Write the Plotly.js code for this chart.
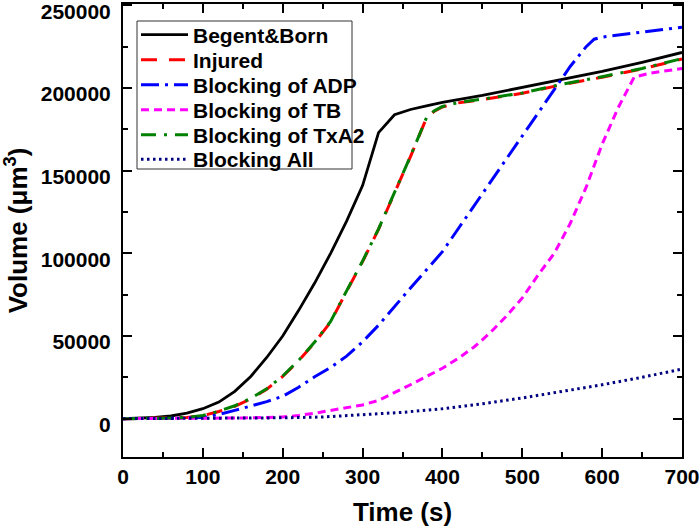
<!DOCTYPE html>
<html>
<head>
<meta charset="utf-8">
<script src="https://cdn.plot.ly/plotly-3.0.1.min.js"></script>
<style>html,body{margin:0;padding:0;background:#fff;}#chart{width:700px;height:531px;}</style>
</head>
<body>
<div id="chart"></div>
<script>
// Time (s) and volume (µm^3) series
const tBB = [0,20,40,60,80,100,120,140,160,180,200,220,240,260,280,300,320,340,360,380,400,450,500,550,600,650,700];
const vBB = [0,200,700,1600,3300,6000,10000,16500,25500,37000,50000,65500,82000,100000,119500,141000,173000,183800,187000,189200,191300,195500,200300,205500,210000,215500,221500];

const tInj = [0,20,40,60,80,100,120,140,160,180,200,220,240,260,280,300,320,340,360,380,390,400,420,450,500,550,600,650,700];
const vInj = [0,50,150,350,700,1800,4300,7500,12000,17800,25500,35000,46000,58500,77000,95000,114500,136000,158500,181800,186000,188500,191000,193000,196800,202000,206500,211500,217500];

const tADP = [0,50,100,120,140,160,180,200,220,240,260,280,300,320,340,360,380,400,420,440,460,480,500,520,540,560,580,590,600,650,700];
const vADP = [0,100,700,2500,5000,7500,10300,13500,19000,25300,31000,37800,46500,56500,68000,79000,90000,101000,115000,129000,143000,157000,171000,185000,199500,213000,225000,229500,230800,233800,236800];

const tTB = [0,50,100,150,200,220,240,260,280,300,320,340,360,380,400,420,440,460,480,500,520,540,560,580,600,620,640,660,680,700];
const vTB = [0,0,100,400,1000,1900,3300,5000,6600,8300,11000,15500,20500,25500,30500,36500,43500,52000,62000,73000,87000,100000,118000,140000,166000,188000,206500,209000,210500,211800];

const tTx = [0,20,40,60,80,100,120,140,160,180,200,220,240,260,280,300,320,340,360,380,390,400,420,450,500,550,600,650,700];
const vTx = [0,60,170,380,750,1900,4500,7800,12300,18000,25800,35300,46300,58800,77300,95300,114800,136300,158800,182000,186300,188800,191200,193300,197000,202300,206800,211800,217800];

const tAll = [0,100,200,250,300,350,400,450,500,550,600,650,700];
const vAll = [0,100,500,1000,2200,3800,6000,9000,12500,16500,20500,25000,30000];

const names = ['Begent&Born','Injured','Blocking of ADP','Blocking of TB','Blocking of TxA2','Blocking All'];

const F = 'Liberation Sans, Arial, sans-serif';
const legIds = ['legend','legend2','legend3','legend4','legend5','legend6'];

const traces = [
  {x:tBB, y:vBB, line:{color:'#000000', width:2.8, dash:'solid'}},
  {x:tInj, y:vInj, line:{color:'#ff0000', width:3, dash:'16px,12px'}},
  {x:tADP, y:vADP, line:{color:'#0000ff', width:3, dash:'18px,6px,3px,6px'}},
  {x:tTB, y:vTB, line:{color:'#ff00ff', width:3, dash:'8px,5px'}},
  {x:tTx, y:vTx, line:{color:'#008000', width:3, dash:'15px,8px,3px,8px'}},
  {x:tAll, y:vAll, line:{color:'#000080', width:3, dash:'2.5px,3.5px'}}
].map((t,i) => Object.assign({type:'scatter', mode:'lines', name:names[i], legend:legIds[i]}, t));

const axisCommon = {
  showline:true, linecolor:'#000', linewidth:2, mirror:'ticks',
  ticks:'inside', ticklen:9, tickwidth:2, tickcolor:'#000',
  showgrid:false, zeroline:false,
  tickfont:{family:F, size:21, color:'#000', weight:'bold'}
};

// plot area geometry (px) for legend placement
const T = 4, H = 453, L = 123, W = 559;
const rowY = [35, 60, 85, 110, 135, 159.5];

const layout = {
  width:700, height:531,
  margin:{l:L, r:18, t:T, b:74},
  paper_bgcolor:'#fff', plot_bgcolor:'#fff',
  showlegend:true,
  xaxis: Object.assign({}, axisCommon, {
    range:[0,700], tickvals:[0,100,200,300,400,500,600,700],
    minor:{tickvals:[50,150,250,350,450,550,650], ticks:'inside', ticklen:5, tickwidth:2, tickcolor:'#000'},
    ticklabelstandoff:0,
    title:{text:'Time (s)', font:{family:F, size:26, color:'#000', weight:'bold'}, standoff:16}
  }),
  yaxis: Object.assign({}, axisCommon, {
    range:[-23200,250800], tickvals:[0,50000,100000,150000,200000,250000],
    ticktext:['0','50000','100000','150000','200000','250000'],
    minor:{tickvals:[25000,75000,125000,175000,225000], ticks:'inside', ticklen:5, tickwidth:2, tickcolor:'#000'},
    ticklabelstandoff:6, ticklabelshift:6, ticklabeloverflow:'allow',
    title:{text:'Volume (μm<sup>3</sup>)', font:{family:F, size:26, color:'#000', weight:'bold'}, standoff:12}
  }),
  shapes:[{
    type:'rect', xref:'paper', yref:'paper', layer:'below',
    x0:(137-L)/W, x1:(352-L)/W, y0:(T+H-169)/H, y1:(T+H-21)/H,
    line:{color:'#333', width:1}, fillcolor:'#fff'
  }]
};

legIds.forEach((id,i) => {
  layout[id] = {
    x:(136-L)/W, y:(T+H-rowY[i])/H, xanchor:'left', yanchor:'middle',
    bgcolor:'rgba(0,0,0,0)', borderwidth:0,
    font:{family:F, size:21, color:'#000', weight:'bold'},
    itemwidth:47
  };
});

Plotly.newPlot('chart', traces, layout, {staticPlot:true, displayModeBar:false});
</script>
</body>
</html>
